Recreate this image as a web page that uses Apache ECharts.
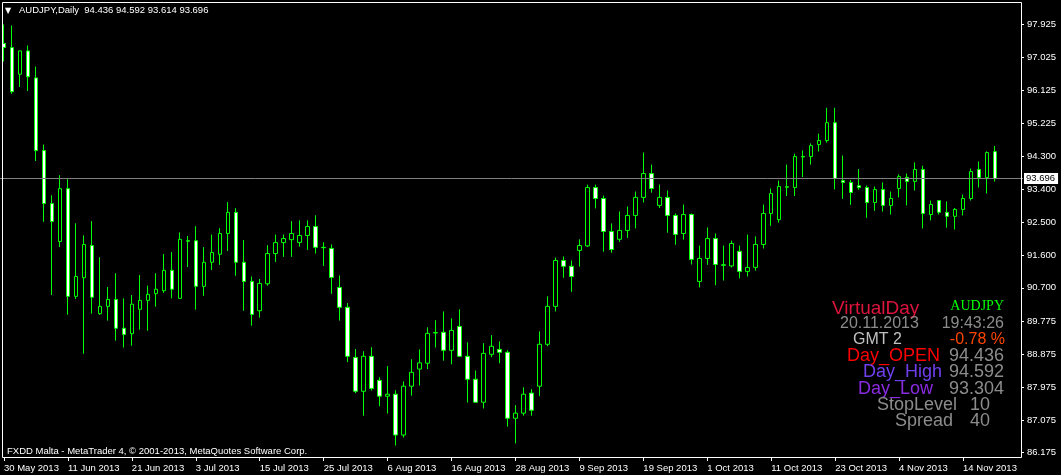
<!DOCTYPE html>
<html>
<head>
<meta charset="utf-8">
<script src="https://cdn.jsdelivr.net/npm/echarts@6/dist/echarts.min.js"></script>
<style>
html,body{margin:0;padding:0;background:#000;}
#chart{width:1061px;height:475px;}
</style>
</head>
<body>
<div id="chart"></div>
<script>
const dates = [
 '30 May 2013','31 May 2013',
 '3 Jun 2013','4 Jun 2013','5 Jun 2013','6 Jun 2013','7 Jun 2013',
 '10 Jun 2013','11 Jun 2013','12 Jun 2013','13 Jun 2013','14 Jun 2013',
 '17 Jun 2013','18 Jun 2013','19 Jun 2013','20 Jun 2013','21 Jun 2013',
 '24 Jun 2013','25 Jun 2013','26 Jun 2013','27 Jun 2013','28 Jun 2013',
 '1 Jul 2013','2 Jul 2013','3 Jul 2013','4 Jul 2013','5 Jul 2013',
 '8 Jul 2013','9 Jul 2013','10 Jul 2013','11 Jul 2013','12 Jul 2013',
 '15 Jul 2013','16 Jul 2013','17 Jul 2013','18 Jul 2013','19 Jul 2013',
 '22 Jul 2013','23 Jul 2013','24 Jul 2013','25 Jul 2013','26 Jul 2013',
 '29 Jul 2013','30 Jul 2013','31 Jul 2013','1 Aug 2013','2 Aug 2013',
 '5 Aug 2013','6 Aug 2013','7 Aug 2013','8 Aug 2013','9 Aug 2013',
 '12 Aug 2013','13 Aug 2013','14 Aug 2013','15 Aug 2013','16 Aug 2013',
 '19 Aug 2013','20 Aug 2013','21 Aug 2013','22 Aug 2013','23 Aug 2013',
 '26 Aug 2013','27 Aug 2013','28 Aug 2013','29 Aug 2013','30 Aug 2013',
 '2 Sep 2013','3 Sep 2013','4 Sep 2013','5 Sep 2013','6 Sep 2013',
 '9 Sep 2013','10 Sep 2013','11 Sep 2013','12 Sep 2013','13 Sep 2013',
 '16 Sep 2013','17 Sep 2013','18 Sep 2013','19 Sep 2013','20 Sep 2013',
 '23 Sep 2013','24 Sep 2013','25 Sep 2013','26 Sep 2013','27 Sep 2013',
 '30 Sep 2013','1 Oct 2013','2 Oct 2013','3 Oct 2013','4 Oct 2013',
 '7 Oct 2013','8 Oct 2013','9 Oct 2013','10 Oct 2013','11 Oct 2013',
 '14 Oct 2013','15 Oct 2013','16 Oct 2013','17 Oct 2013','18 Oct 2013',
 '21 Oct 2013','22 Oct 2013','23 Oct 2013','24 Oct 2013','25 Oct 2013',
 '28 Oct 2013','29 Oct 2013','30 Oct 2013','31 Oct 2013','1 Nov 2013',
 '4 Nov 2013','5 Nov 2013','6 Nov 2013','7 Nov 2013','8 Nov 2013',
 '11 Nov 2013','12 Nov 2013','13 Nov 2013','14 Nov 2013','15 Nov 2013',
 '18 Nov 2013','19 Nov 2013','20 Nov 2013'
];
const emptySlots = ['', '', ''];

const opens = [
 97.405,97.29,96.56,97.20,96.46,94.465,93.01,91.97,93.42,90.465,
 90.975,91.86,89.99,90.19,90.38,89.59,89.44,90.11,90.355,90.54,
 90.62,91.18,90.41,91.99,91.99,90.74,91.40,91.62,92.19,92.77,
 91.40,90.875,90.07,90.81,91.64,91.94,92.02,91.945,92.135,92.38,
 91.81,91.78,90.71,90.165,88.79,87.86,88.82,88.16,87.725,87.78,
 86.66,88.00,88.47,88.63,89.47,89.48,88.985,89.64,88.82,88.19,
 87.56,88.875,89.01,88.93,87.12,87.26,87.81,88.00,89.15,90.19,
 91.45,91.29,91.725,91.85,93.45,93.15,92.245,92.03,92.275,92.685,
 93.18,93.835,92.96,93.18,92.685,92.19,92.71,90.875,91.505,92.05,
 91.33,91.30,91.70,91.15,91.26,91.89,92.74,92.57,93.47,93.45,
 94.30,94.30,94.63,94.74,95.23,93.64,93.59,93.50,93.45,93.04,
 93.395,92.96,93.425,93.73,93.62,93.945,92.71,93.095,92.77,92.66,
 92.85,93.15,93.945,93.725,94.436
];
const highs = [
 97.925,97.90,97.20,97.35,96.77,94.63,93.24,93.79,93.68,92.47,
 92.14,92.53,91.54,90.72,91.10,90.41,90.50,91.05,90.76,91.10,
 91.625,91.68,92.22,92.12,92.39,91.815,92.16,92.335,93.05,92.885,
 92.01,91.01,90.94,91.87,92.16,92.16,92.53,92.55,92.55,92.69,
 91.95,91.89,91.04,90.28,89.02,88.96,89.07,88.245,88.55,87.89,
 88.135,88.74,89.01,89.615,89.81,90.05,89.86,90.11,89.205,88.43,
 89.18,89.40,89.23,88.985,87.48,87.97,87.92,89.505,90.465,91.53,
 91.56,91.45,92.03,93.53,93.53,93.23,92.465,92.795,92.93,93.34,
 94.41,94.08,93.53,93.37,92.74,92.985,92.74,91.86,92.355,92.19,
 91.86,91.995,91.86,92.16,92.11,92.985,93.425,93.64,94.08,94.38,
 94.47,94.66,94.93,95.64,95.64,94.33,93.66,93.96,93.505,93.48,
 93.59,93.34,93.81,93.835,94.14,94.05,93.095,93.095,93.07,92.89,
 93.26,93.97,94.165,94.44,94.592
];
const lows = [
 96.91,96.02,96.21,96.10,94.18,92.51,90.50,91.82,89.96,90.39,
 88.89,89.99,89.96,89.80,89.25,89.06,89.11,89.55,89.52,90.18,
 90.56,90.41,90.41,91.27,90.10,90.48,91.19,91.33,91.71,91.03,
 90.07,89.66,89.88,90.76,91.41,91.55,91.55,91.83,91.74,91.64,
 91.30,90.535,89.80,88.66,87.81,87.19,87.88,87.45,87.25,86.37,
 86.59,87.74,88.02,88.47,89.06,88.70,88.60,88.80,87.55,87.55,
 87.39,88.795,88.63,86.89,86.43,87.19,87.19,87.725,89.095,90.05,
 90.975,90.59,91.28,91.82,92.88,91.69,91.66,91.96,92.07,92.33,
 93.04,93.31,92.89,92.21,91.88,92.02,91.34,90.71,91.33,90.77,
 90.90,91.26,90.96,91.01,91.17,91.78,92.40,92.49,93.22,93.22,
 93.74,94.08,94.44,94.685,93.40,93.14,92.975,93.39,92.62,92.81,
 92.79,92.71,93.18,92.96,93.37,92.33,92.55,92.71,92.35,92.30,
 92.685,93.095,93.45,93.29,93.614
];
const closes = [
 97.295,96.08,97.20,96.49,94.465,93.01,92.52,93.42,90.465,91.01,
 91.89,90.44,90.19,90.38,89.59,89.42,90.25,90.355,90.52,90.66,
 91.18,90.66,92.03,91.98,90.74,91.40,91.67,92.19,92.77,91.40,
 90.875,89.97,90.82,91.64,91.94,92.05,92.19,92.135,92.38,91.81,
 91.80,90.985,90.165,88.82,87.86,88.82,87.94,87.725,87.78,86.66,
 88.00,88.38,88.64,89.45,89.46,88.985,89.53,88.82,88.19,87.56,
 88.90,89.095,88.93,87.12,87.26,87.78,87.34,89.15,90.19,91.45,
 91.29,91.01,91.86,93.45,93.15,92.245,91.75,92.275,92.685,93.18,
 93.835,93.425,93.18,92.685,92.165,92.71,91.48,91.505,92.05,91.34,
 91.32,91.915,91.15,91.26,91.89,92.74,93.285,93.48,93.46,94.30,
 94.29,94.60,94.74,95.23,93.70,93.59,93.315,93.45,93.04,93.395,
 92.96,93.15,93.75,93.62,93.945,92.74,92.985,92.77,92.66,92.85,
 93.15,93.89,93.725,94.41,93.696
];
const priceTicks = [86.175,87.075,87.975,88.875,89.775,90.700,91.600,92.500,93.400,94.300,95.225,96.125,97.025,97.925];
const lastPrice = 93.696;
const headerText = 'AUDJPY,Daily  94.436 94.592 93.614 93.696';

const FONT = '"Liberation Sans", Arial, sans-serif';
const candleData = dates.map((d, i) => [opens[i], closes[i], lows[i], highs[i]]);

const chart = echarts.init(document.getElementById('chart'), null, {renderer: 'canvas'});

function txt(text, x, y, color, size, align, family) {
  return {
    type: 'text', silent: true, z: 100,
    style: {
      text: text, x: x, y: y, fill: color,
      font: size + 'px ' + (family || FONT),
      align: align || 'left', verticalAlign: 'middle'
    }
  };
}

chart.setOption({
  backgroundColor: '#000',
  animation: false,
  grid: {left: -1, width: 1024, top: 2, bottom: 18, containLabel: false},
  xAxis: {
    type: 'category',
    data: dates.concat(emptySlots),
    boundaryGap: true,
    axisLine: {show: false},
    axisTick: {show: true, interval: 7, alignWithLabel: true, length: 4, lineStyle: {color: '#fff'}},
    axisLabel: {
      interval: 7, color: '#fff', fontFamily: FONT, fontSize: 9.5,
      align: 'left', margin: 6, padding: [0, 0, 0, 0]
    },
    splitLine: {show: false}
  },
  yAxis: {
    type: 'value', position: 'right', offset: -2,
    min: 86.057, max: 98.542,
    axisLine: {show: false},
    axisTick: {show: true, length: 3, lineStyle: {color: '#fff'}, customValues: priceTicks},
    axisLabel: {
      color: '#fff', fontFamily: FONT, fontSize: 9.5, margin: 6,
      customValues: priceTicks,
      formatter: v => Number(v).toFixed(3)
    },
    splitLine: {show: false}
  },
  series: [{
    type: 'candlestick',
    data: candleData,
    barWidth: 4,
    itemStyle: {
      color: '#000', color0: '#fff',
      borderColor: '#00ff00', borderColor0: '#00ff00', borderWidth: 1
    },
    markLine: {
      silent: true, symbol: ['none', 'none'], animation: false,
      lineStyle: {color: '#808080', type: 'solid', width: 1},
      label: {
        show: true, position: 'end', distance: 1,
        formatter: () => lastPrice.toFixed(3),
        color: '#000', backgroundColor: '#fff', padding: [1, 3, 0, 2],
        fontFamily: FONT, fontSize: 9.5
      },
      data: [{yAxis: lastPrice}]
    }
  }],
  graphic: [
    {type: 'rect', silent: true, z: 90,
     shape: {x: 2.5, y: 2.5, width: 1019, height: 455},
     style: {fill: 'none', stroke: '#fff', lineWidth: 1}},
    {type: 'rect', silent: true, z: 95,
     shape: {x: 3, y: 4, width: 208, height: 13},
     style: {fill: '#000'}},
    txt('\u25BC', 5, 10.5, '#fff', 8, 'left', '"DejaVu Sans", sans-serif'),
    txt(headerText, 19, 10.5, '#fff', 9.5),
    txt('FXDD Malta - MetaTrader 4, \u00A9 2001-2013, MetaQuotes Software Corp.', 7, 451, '#fff', 9.5),

    txt('VirtualDay', 832, 309, '#dc143c', 19),
    txt('AUDJPY', 1004, 306, '#00ff00', 14, 'right', '"Liberation Serif", "Times New Roman", serif'),
    txt('20.11.2013', 840, 324, '#8c8c8c', 16),
    txt('19:43:26', 1004, 324, '#8c8c8c', 16, 'right'),
    txt('GMT 2', 853, 340, '#c0c0c0', 16),
    txt('-0.78 %', 1005, 340, '#ff4500', 16, 'right'),
    txt('Day_OPEN', 847, 356, '#ff0000', 18),
    txt('94.436', 1004, 356, '#8c8c8c', 18, 'right'),
    txt('Day_High', 863, 372, '#7040f0', 18),
    txt('94.592', 1004, 372, '#8c8c8c', 18, 'right'),
    txt('Day_Low', 858, 389, '#8a2be2', 18),
    txt('93.304', 1004, 389, '#8c8c8c', 18, 'right'),
    txt('StopLevel', 877, 405, '#8c8c8c', 18),
    txt('10', 990, 405, '#8c8c8c', 18, 'right'),
    txt('Spread', 895, 421, '#8c8c8c', 18),
    txt('40', 990, 421, '#8c8c8c', 18, 'right')
  ]
});
</script>
</body>
</html>
